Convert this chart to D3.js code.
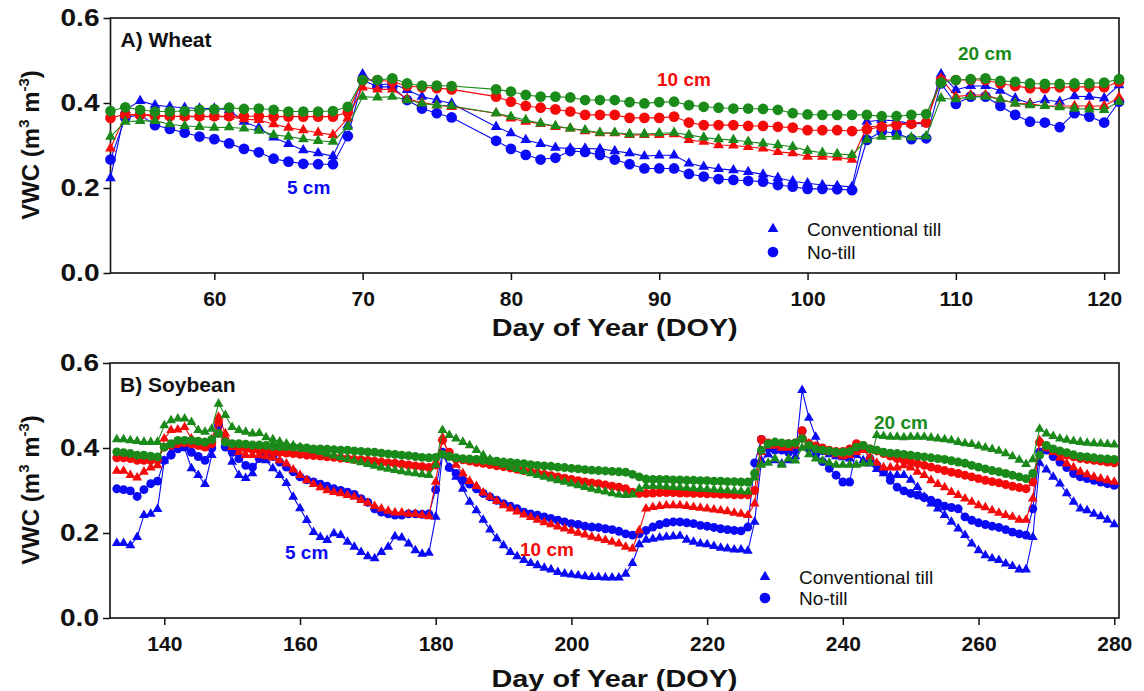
<!DOCTYPE html>
<html>
<head>
<meta charset="utf-8">
<script src="https://cdn.jsdelivr.net/npm/d3@7"></script>
<style>
  body { margin: 0; background: #fff; }
  svg text { font-family: "Liberation Sans", Arial, Helvetica, sans-serif; }
</style>
</head>
<body>
<svg id="chart" width="1144" height="691"></svg>
<script>
// ---------- Wheat (panel A): volumetric water content, m3 m-3 ----------
const wheatDays = d3.range(53, 77).concat(d3.range(79, 122));

const wheatCT5 = [.223,.384,.405,.395,.391,.389,.387,.387,.384,.356,.342,.319,.304,.289,.282,.275,.348,.468,.442,.446,.431,.415,.407,.399,
  .344,.329,.313,.304,.295,.293,.293,.292,.287,.282,.275,.277,.277,.258,.250,.245,.242,.238,.232,.224,.216,.211,.207,.205,.203,
  .356,.360,.358,.351,.352,.468,.431,.440,.440,.429,.411,.399,.407,.403,.416,.415,.411,.442];
const wheatNT5 = [.267,.366,.372,.348,.339,.330,.321,.315,.305,.292,.284,.269,.262,.257,.256,.256,.322,.454,.438,.438,.407,.387,.376,.366,
  .311,.292,.278,.267,.271,.287,.285,.278,.267,.256,.246,.246,.246,.233,.227,.221,.219,.217,.215,.207,.203,.198,.198,.197,.195,
  .313,.333,.329,.315,.317,.446,.398,.415,.415,.393,.372,.356,.354,.343,.376,.368,.354,.403];
const wheatCT10 = [.293,.372,.372,.372,.369,.368,.368,.368,.368,.362,.360,.350,.342,.336,.330,.325,.364,.437,.432,.432,.410,.401,.395,.391,
  .376,.364,.356,.351,.344,.340,.334,.329,.329,.325,.325,.325,.327,.313,.309,.301,.300,.297,.293,.285,.282,.274,.274,.272,.267,
  .344,.346,.351,.352,.356,.458,.415,.419,.419,.409,.399,.398,.393,.393,.393,.393,.393,.413];
const wheatNT10 = [.365,.373,.372,.369,.369,.369,.369,.369,.369,.369,.369,.368,.368,.368,.368,.368,.378,.454,.454,.450,.440,.437,.435,.432,
  .415,.403,.393,.389,.385,.380,.372,.372,.372,.365,.365,.365,.368,.354,.348,.348,.348,.346,.346,.344,.342,.336,.336,.336,.334,
  .338,.344,.348,.351,.354,.454,.454,.454,.454,.446,.440,.435,.435,.437,.438,.438,.437,.450];
const wheatCT20 = [.321,.356,.358,.358,.350,.346,.344,.342,.343,.340,.335,.325,.321,.315,.311,.309,.344,.415,.413,.415,.407,.399,.395,.393,
  .376,.368,.360,.352,.346,.340,.336,.330,.330,.327,.327,.329,.330,.325,.319,.315,.313,.309,.305,.301,.297,.288,.283,.280,.278,
  .313,.321,.321,.319,.322,.411,.409,.415,.415,.409,.399,.395,.393,.390,.387,.385,.384,.403];
const wheatNT20 = [.381,.390,.384,.380,.380,.381,.384,.385,.389,.386,.387,.384,.380,.380,.380,.381,.391,.454,.454,.458,.446,.441,.441,.440,
  .432,.427,.419,.415,.415,.413,.407,.407,.407,.402,.399,.402,.403,.395,.391,.389,.387,.387,.386,.384,.376,.373,.372,.372,.372,
  .372,.369,.369,.372,.374,.448,.454,.456,.458,.452,.450,.446,.445,.445,.446,.446,.448,.456];

// ---------- Soybean (panel B) ----------
const soyDays = d3.range(133, 281);

const soyCT5 = [
  .176,.176,.171,.190,.242,.245,.256,.370,.390,.400,
  .400,.352,.336,.315,.383,.458,.411,.367,.336,.329,
  .340,.379,.371,.352,.336,.317,.285,.258,.230,.202,
  .190,.183,.199,.195,.179,.167,.155,.145,.140,.155,
  .167,.192,.189,.175,.159,.151,.153,.238,.385,.355,
  .332,.304,.273,.253,.231,.208,.187,.171,.155,.145,
  .136,.129,.124,.118,.114,.108,.104,.102,.100,.098,
  .096,.096,.095,.095,.095,.104,.129,.173,.184,.186,
  .189,.191,.192,.193,.184,.179,.175,.173,.169,.165,
  .163,.161,.161,.158,.226,.370,.385,.371,.363,.371,
  .380,.536,.471,.426,.390,.385,.380,.378,.375,.383,
  .371,.363,.350,.340,.335,.336,.336,.325,.308,.285,
  .269,.257,.242,.226,.210,.195,.175,.159,.147,.140,
  .136,.128,.122,.114,.114,.190,.365,.349,.332,.316,
  .293,.273,.257,.253,.245,.239,.231,.220];
const soyNT5 = [
  .304,.302,.299,.286,.302,.316,.322,.371,.383,.398,
  .402,.390,.380,.371,.400,.453,.402,.390,.375,.359,
  .355,.375,.383,.380,.367,.355,.344,.332,.325,.320,
  .315,.310,.304,.300,.296,.291,.281,.272,.257,.249,
  .245,.242,.242,.245,.245,.244,.245,.302,.390,.354,
  .340,.324,.315,.304,.293,.285,.277,.269,.263,.257,
  .249,.245,.242,.238,.234,.230,.226,.222,.220,.216,
  .214,.213,.210,.208,.204,.198,.195,.198,.206,.214,
  .220,.224,.226,.226,.224,.222,.218,.216,.213,.210,
  .208,.206,.205,.214,.365,.420,.400,.395,.395,.390,
  .395,.440,.400,.385,.368,.352,.336,.320,.320,.400,
  .400,.375,.360,.344,.324,.308,.299,.293,.289,.283,
  .277,.271,.263,.260,.257,.238,.230,.224,.220,.216,
  .213,.208,.202,.198,.195,.257,.391,.395,.380,.367,
  .354,.340,.332,.328,.324,.320,.316,.312];
const soyCT10 = [
  .346,.346,.336,.330,.344,.354,.359,.422,.442,.443,
  .449,.422,.406,.402,.420,.473,.434,.402,.390,.383,
  .383,.383,.380,.377,.371,.363,.349,.336,.324,.315,
  .307,.300,.296,.293,.289,.285,.277,.271,.263,.257,
  .252,.248,.248,.245,.245,.242,.239,.320,.425,.380,
  .360,.340,.322,.310,.295,.285,.275,.265,.257,.250,
  .243,.237,.231,.225,.220,.215,.210,.205,.200,.196,
  .191,.187,.183,.179,.175,.167,.163,.206,.257,.261,
  .263,.265,.265,.265,.263,.261,.259,.257,.255,.253,
  .251,.247,.245,.242,.269,.390,.405,.405,.400,.400,
  .405,.430,.410,.400,.395,.390,.385,.380,.383,.390,
  .395,.379,.365,.354,.354,.354,.359,.354,.344,.336,
  .324,.315,.307,.296,.289,.281,.273,.265,.260,.253,
  .247,.242,.238,.231,.231,.281,.418,.402,.390,.377,
  .363,.354,.344,.338,.332,.328,.324,.320];
const soyNT10 = [
  .377,.377,.375,.371,.371,.371,.372,.402,.406,.410,
  .412,.410,.406,.402,.410,.461,.418,.406,.402,.398,
  .396,.395,.393,.390,.390,.388,.387,.385,.383,.382,
  .381,.379,.378,.376,.375,.373,.372,.371,.369,.367,
  .365,.364,.362,.360,.358,.356,.354,.360,.418,.390,
  .375,.372,.369,.366,.364,.361,.358,.356,.353,.350,
  .347,.344,.341,.338,.335,.332,.329,.326,.323,.320,
  .318,.316,.313,.310,.308,.304,.296,.293,.293,.294,
  .295,.295,.295,.294,.294,.293,.293,.292,.292,.291,
  .291,.290,.290,.290,.300,.420,.412,.410,.408,.410,
  .412,.441,.410,.405,.400,.395,.392,.392,.398,.410,
  .406,.398,.393,.387,.381,.375,.371,.367,.363,.359,
  .355,.351,.347,.343,.340,.336,.332,.328,.324,.321,
  .318,.314,.310,.307,.304,.320,.414,.402,.395,.389,
  .383,.379,.375,.373,.371,.369,.367,.365];
const soyCT20 = [
  .420,.420,.418,.416,.414,.414,.414,.453,.465,.469,
  .469,.461,.442,.438,.445,.504,.477,.449,.442,.438,
  .434,.435,.425,.420,.415,.410,.406,.402,.398,.394,
  .390,.386,.382,.378,.374,.370,.366,.362,.358,.354,
  .351,.348,.345,.342,.340,.338,.336,.360,.442,.430,
  .422,.414,.406,.395,.383,.373,.365,.360,.355,.350,
  .345,.340,.336,.332,.328,.324,.320,.316,.312,.308,
  .304,.300,.297,.293,.290,.289,.290,.304,.310,.310,
  .310,.309,.308,.307,.306,.305,.304,.303,.302,.301,
  .300,.299,.298,.297,.330,.360,.365,.375,.360,.375,
  .370,.400,.385,.375,.370,.365,.360,.360,.360,.360,
  .363,.365,.430,.428,.426,.426,.425,.426,.426,.426,
  .424,.422,.420,.418,.414,.411,.409,.405,.401,.397,
  .393,.387,.380,.372,.362,.373,.445,.434,.428,.422,
  .419,.416,.414,.412,.411,.410,.409,.408];
const soyNT20 = [
  .391,.389,.387,.383,.383,.381,.379,.402,.410,.418,
  .418,.418,.416,.414,.420,.434,.414,.410,.410,.409,
  .407,.407,.406,.404,.403,.403,.402,.401,.400,.398,
  .398,.397,.396,.395,.395,.393,.392,.391,.390,.388,
  .386,.385,.383,.382,.380,.378,.377,.378,.385,.380,
  .377,.375,.374,.373,.371,.370,.369,.367,.366,.364,
  .363,.361,.359,.358,.357,.355,.354,.352,.351,.349,
  .348,.347,.346,.345,.344,.343,.338,.332,.327,.326,
  .326,.326,.325,.325,.324,.324,.323,.323,.322,.322,
  .321,.321,.320,.320,.340,.395,.410,.414,.412,.410,
  .412,.422,.406,.398,.395,.393,.390,.390,.392,.402,
  .406,.398,.395,.390,.388,.387,.385,.383,.381,.379,
  .377,.375,.373,.370,.367,.364,.359,.355,.351,.347,
  .344,.340,.336,.332,.328,.340,.383,.406,.398,.393,
  .389,.384,.380,.379,.377,.375,.374,.373];

// ---------- Axis ticks and labels ----------
const wheatTicks = [60, 70, 80, 90, 100, 110, 120];
const soyTicks = [140, 160, 180, 200, 220, 240, 260, 280];
const vwcTicks = [0, 0.2, 0.4, 0.6];
const legendLabels = ["Conventional till", "No-till"];

const depthColor = { 5: "#0a0af5", 10: "#f50a0a", 20: "#1a8a1a" };

const svg = d3.select("#chart");

function drawPanel(cfg) {
  const x = d3.scaleLinear().domain(cfg.xDomain).range([cfg.left, cfg.right]);
  const y = d3.scaleLinear().domain([0, 0.6]).range([cfg.bottom, cfg.top]);
  const g = svg.append("g");

  // x axis
  const xAxis = g.append("g")
    .attr("transform", `translate(0,${cfg.bottom})`)
    .call(d3.axisBottom(x).tickValues(cfg.xTicks).tickSize(7).tickSizeOuter(0).tickPadding(11));
  xAxis.select(".domain").remove();
  xAxis.selectAll(".tick line").attr("stroke", "#111").attr("stroke-width", 1.5);
  xAxis.selectAll(".tick text")
    .attr("fill", "#111").style("font-size", "21px").style("font-weight", "bold");

  // y axis (labels drawn slightly widened)
  const yAxis = g.append("g")
    .attr("transform", `translate(${cfg.left},0)`)
    .call(d3.axisLeft(y).tickValues(vwcTicks).tickFormat(d3.format(".1f")).tickSize(7).tickSizeOuter(0).tickPadding(4));
  yAxis.select(".domain").remove();
  yAxis.selectAll(".tick line").attr("stroke", "#111").attr("stroke-width", 1.5);
  yAxis.selectAll(".tick text")
    .attr("fill", "#111").style("font-size", "23px").style("font-weight", "bold")
    .each(function () {
      const t = d3.select(this);
      const tx = +t.attr("x");
      t.attr("x", 0).attr("transform", `translate(${tx},0) scale(1.22,1)`);
    });

  // frame
  g.append("rect")
    .attr("x", cfg.left).attr("y", cfg.top)
    .attr("width", cfg.right - cfg.left).attr("height", cfg.bottom - cfg.top)
    .attr("fill", "none").attr("stroke", "#111").attr("stroke-width", 1.6);

  // series: line + markers
  const line = d3.line().x(d => x(d[0])).y(d => y(d[1]));
  cfg.series.forEach(s => {
    const pts = cfg.days.map((d, i) => [d, s.values[i]]);
    const col = depthColor[s.depth];
    g.append("path").datum(pts)
      .attr("d", line).attr("fill", "none")
      .attr("stroke", col).attr("stroke-width", 1.1);
    const sym = d3.symbol()
      .type(s.shape === "tri" ? d3.symbolTriangle : d3.symbolCircle)
      .size(s.shape === "tri" ? cfg.triSize : cfg.circSize);
    g.append("g").selectAll("path").data(pts).join("path")
      .attr("d", sym)
      .attr("transform", d => `translate(${x(d[0])},${y(d[1])})`)
      .attr("fill", col);
  });

  // panel label
  g.append("text").attr("x", cfg.left + 10).attr("y", cfg.labelY)
    .style("font-size", "21px").style("font-weight", "bold").attr("fill", "#111")
    .text(cfg.label);

  // depth annotations
  cfg.notes.forEach(n => {
    g.append("text").attr("x", n.x).attr("y", n.y)
      .style("font-size", "19px").style("font-weight", "bold")
      .attr("fill", depthColor[n.depth]).text(n.depth + " cm");
  });

  // legend
  const lg = g.append("g");
  [d3.symbolTriangle, d3.symbolCircle].forEach((t, i) => {
    lg.append("path")
      .attr("d", d3.symbol().type(t).size(i === 0 ? cfg.legTri : cfg.legCirc))
      .attr("transform", `translate(${cfg.legX},${cfg.legY[i]})`)
      .attr("fill", depthColor[5]);
    lg.append("text")
      .attr("x", cfg.legX + 34).attr("y", cfg.legY[i] + 7)
      .style("font-size", "19px").attr("fill", "#111")
      .text(legendLabels[i]);
  });

  // axis titles
  g.append("text")
    .attr("transform", `translate(${(cfg.left + cfg.right) / 2},${cfg.xTitleY}) scale(1.2,1)`)
    .attr("text-anchor", "middle")
    .style("font-size", "24px").style("font-weight", "bold").attr("fill", "#111")
    .text("Day of Year (DOY)");

  const yt = g.append("text")
    .attr("transform", `translate(39,${cfg.yTitleMid}) rotate(-90)`)
    .attr("text-anchor", "middle")
    .style("font-size", "24px").style("font-weight", "bold").attr("fill", "#111");
  yt.append("tspan").text("VWC (m");
  yt.append("tspan").attr("dy", -10).style("font-size", "15px").text("3");
  yt.append("tspan").attr("dy", 10).text(" m");
  yt.append("tspan").attr("dy", -10).style("font-size", "15px").text("-3");
  yt.append("tspan").attr("dy", 10).text(")");
}

drawPanel({
  left: 110.5, right: 1119, top: 18, bottom: 273,
  xDomain: [53, 121], xTicks: wheatTicks, days: wheatDays,
  triSize: 50, circSize: 90,
  label: "A) Wheat", labelY: 47,
  series: [
    { depth: 5, shape: "tri", values: wheatCT5 },
    { depth: 5, shape: "circ", values: wheatNT5 },
    { depth: 10, shape: "tri", values: wheatCT10 },
    { depth: 10, shape: "circ", values: wheatNT10 },
    { depth: 20, shape: "tri", values: wheatCT20 },
    { depth: 20, shape: "circ", values: wheatNT20 }
  ],
  notes: [ { depth: 5, x: 287, y: 194 }, { depth: 10, x: 657, y: 86 }, { depth: 20, x: 958, y: 60 } ],
  legX: 773, legY: [229, 252], legTri: 50, legCirc: 90,
  xTitleY: 336, yTitleMid: 145
});

drawPanel({
  left: 110, right: 1119, top: 363, bottom: 618,
  xDomain: [132, 280.7], xTicks: soyTicks, days: soyDays,
  triSize: 42, circSize: 62,
  label: "B) Soybean", labelY: 392,
  series: [
    { depth: 5, shape: "tri", values: soyCT5 },
    { depth: 5, shape: "circ", values: soyNT5 },
    { depth: 10, shape: "tri", values: soyCT10 },
    { depth: 10, shape: "circ", values: soyNT10 },
    { depth: 20, shape: "tri", values: soyCT20 },
    { depth: 20, shape: "circ", values: soyNT20 }
  ],
  notes: [ { depth: 5, x: 285, y: 559 }, { depth: 10, x: 520, y: 556 }, { depth: 20, x: 874, y: 429 } ],
  legX: 765, legY: [577, 598], legTri: 50, legCirc: 90,
  xTitleY: 687, yTitleMid: 490
});
</script>
</body>
</html>
